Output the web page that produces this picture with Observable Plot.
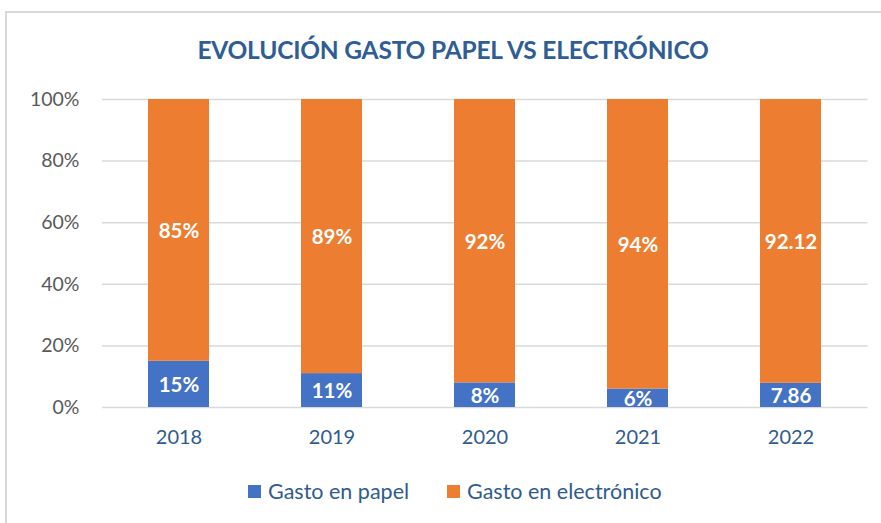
<!DOCTYPE html>
<html>
<head>
<meta charset="utf-8">
<script src="https://cdn.jsdelivr.net/npm/d3@7"></script>
<script src="https://cdn.jsdelivr.net/npm/@observablehq/plot@0.6"></script>
<style>
  html, body { margin: 0; padding: 0; background: #fff; width: 881px; height: 523px; overflow: hidden; position: relative; font-family: Lato, "Open Sans", sans-serif; }
  #frame { position: absolute; left: 5px; top: 11px; width: 920px; height: 600px; border: 2px solid #d9d9d9; box-sizing: border-box; }
  #title { position: absolute; left: 0; top: 35px; width: 906px; text-align: center; font-weight: 700; font-size: 24.5px; line-height: 30px; color: #2F5D95; letter-spacing: -0.2px; }
  #chart { position: absolute; left: 0; top: 80px; }
  #legend { position: absolute; left: 0; top: 478px; width: 881px; height: 30px; font-size: 21.5px; color: #305B8F; }
  .item { position: absolute; top: 0; display: flex; align-items: center; height: 26px; }
  .sw { width: 13px; height: 13px; margin-right: 7px; }
</style>
</head>
<body>
<div id="frame"></div>
<div id="title">EVOLUCIÓN GASTO PAPEL VS ELECTRÓNICO</div>
<div id="chart"></div>
<div id="legend"></div>
<script>
const years = ["2018", "2019", "2020", "2021", "2022"];
const papel = [15, 11, 8, 6, 7.86];
const electronico = [85, 89, 92, 94, 92.12];
const papelLabels = ["15%", "11%", "8%", "6%", "7.86"];
const electronicoLabels = ["85%", "89%", "92%", "94%", "92.12"];
const series = ["Gasto en papel", "Gasto en electrónico"];
const colors = ["#4472C4", "#ED7D31"];
const yTicks = [0, 20, 40, 60, 80, 100];

const data = [];
years.forEach((yr, i) => {
  data.push({year: yr, serie: series[0], value: papel[i], label: papelLabels[i]});
  data.push({year: yr, serie: series[1], value: electronico[i], label: electronicoLabels[i]});
});

const plot = Plot.plot({
  width: 881,
  height: 377,
  marginTop: 19,
  marginBottom: 50,
  marginLeft: 102,
  marginRight: 13.5,
  style: {fontFamily: "Lato, 'Open Sans', sans-serif", background: "transparent"},
  x: {domain: years, paddingInner: 0.6, paddingOuter: 0.3, label: null},
  y: {domain: [0, 100], label: null},
  color: {domain: series, range: colors},
  marks: [
    Plot.ruleY(yTicks, {stroke: "#d9d9d9", strokeWidth: 1.5}),
    Plot.barY(data, {x: "year", y: "value", fill: "serie", z: "serie"}),
    Plot.text(data, Plot.stackY({x: "year", y: "value", z: "serie", text: "label", fill: "white", fontWeight: 700, fontSize: 20.5, dy: 1})),
    Plot.axisY(yTicks, {tickSize: 0, tickPadding: 23, fontSize: 19.5, fill: "#595959", tickFormat: d => d + "%", label: null}),
    Plot.axisX({tickSize: 0, tickPadding: 22, fontSize: 20, fill: "#305B8F", label: null})
  ]
});
document.getElementById("chart").appendChild(plot);

const legend = document.getElementById("legend");
const lefts = [248, 447];
series.forEach((s, i) => {
  const it = document.createElement("div");
  it.className = "item";
  it.style.left = lefts[i] + "px";
  const sw = document.createElement("div");
  sw.className = "sw";
  sw.style.background = colors[i];
  const tx = document.createElement("span");
  tx.textContent = s;
  it.appendChild(sw);
  it.appendChild(tx);
  legend.appendChild(it);
});
</script>
</body>
</html>
